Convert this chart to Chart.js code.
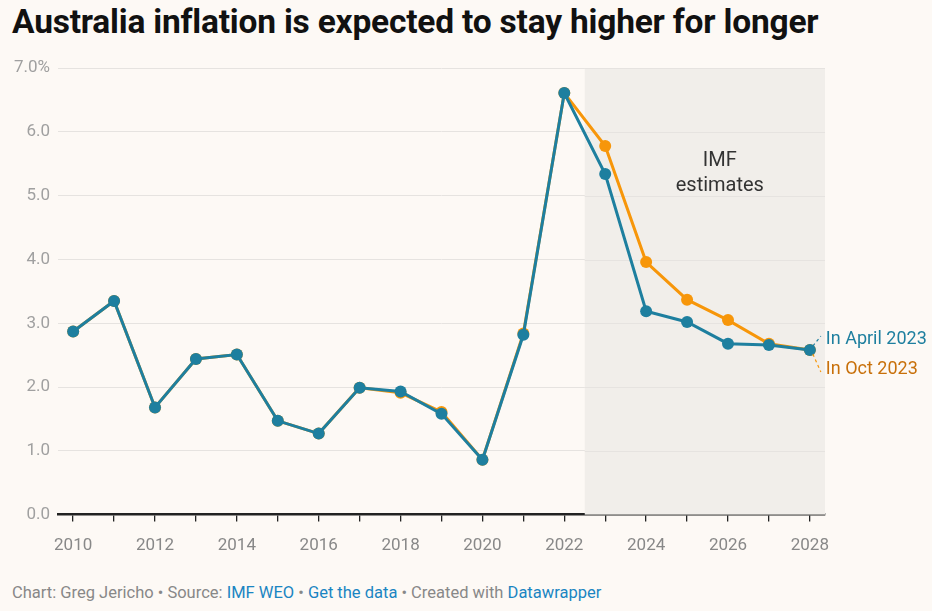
<!DOCTYPE html>
<html>
<head>
<meta charset="utf-8">
<script src="https://cdn.jsdelivr.net/npm/chart.js@4"></script>
<style>
  html, body { margin: 0; padding: 0; background: #fdf9f5; }
  body { width: 932px; height: 611px; position: relative; overflow: hidden; font-family: Roboto, sans-serif; }
  #title { position: absolute; left: 12px; top: 2px; font-size: 33.5px; font-weight: 700; color: #111; letter-spacing: -0.2px; }
  #wrap { position: absolute; left: 0; top: 50px; width: 932px; height: 526px; }
  #footer { position: absolute; left: 12px; top: 583px; font-size: 16.5px; color: #888; }
  #footer a { color: #1a85c2; text-decoration: none; }
</style>
</head>
<body>
<div id="title">Australia inflation is expected to stay higher for longer</div>
<div id="wrap"><canvas id="chart"></canvas></div>
<div id="footer">Chart: Greg Jericho • Source: <a>IMF WEO</a> • <a>Get the data</a> • Created with <a>Datawrapper</a></div>
<script>
/* Australia CPI inflation, IMF WEO vintages */

const years = [2010, 2011, 2012, 2013, 2014, 2015, 2016, 2017, 2018, 2019,
  2020, 2021, 2022, 2023, 2024, 2025, 2026, 2027, 2028];

const april2023 = [2.87, 3.35, 1.68, 2.44, 2.51, 1.47, 1.27, 1.99, 1.93, 1.58,
  0.86, 2.82, 6.61, 5.34, 3.19, 3.02, 2.68, 2.66, 2.58];

const oct2023 = [2.87, 3.35, 1.68, 2.44, 2.51, 1.47, 1.27, 1.99, 1.91, 1.61,
  0.86, 2.84, 6.61, 5.78, 3.96, 3.37, 3.05, 2.68, 2.58];

const seriesNames = ['In April 2023', 'In Oct 2023'];
const yTicks = [0, 1, 2, 3, 4, 5, 6, 7];
const estimateStart = 2022.5;
const estimateLabel = ['IMF', 'estimates'];

const TEAL = '#1e7f9f';
const ORANGE = '#f7960a';
const ORANGE_TEXT = '#c8700a';

const toPoints = (vals) => years.map((yr, i) => ({ x: yr, y: vals[i] }));

/* ── Shaded estimate band + end labels ───────────── */

const overlay = {
  id: 'overlay',
  beforeDatasetsDraw(chart) {
    const { ctx, chartArea, scales } = chart;
    const x0 = scales.x.getPixelForValue(estimateStart);
    ctx.save();
    ctx.fillStyle = '#f1eeea';
    ctx.fillRect(x0, chartArea.top, chartArea.right - x0, chartArea.bottom - chartArea.top);
    // redraw the grid lines over the band
    ctx.strokeStyle = '#e6e3e0';
    ctx.lineWidth = 1;
    yTicks.slice(1).forEach((t) => {
      const y = Math.round(scales.y.getPixelForValue(t)) + 0.5;
      ctx.beginPath();
      ctx.moveTo(x0, y);
      ctx.lineTo(chartArea.right, y);
      ctx.stroke();
    });
    ctx.fillStyle = '#333';
    ctx.font = '20px Roboto, sans-serif';
    ctx.textAlign = 'center';
    ctx.textBaseline = 'middle';
    const cx = scales.x.getPixelForValue(2025.8);
    ctx.fillText(estimateLabel[0], cx, scales.y.getPixelForValue(5.55));
    ctx.fillText(estimateLabel[1], cx, scales.y.getPixelForValue(5.16));
    ctx.restore();
  },
  afterDatasetsDraw(chart) {
    const { ctx, scales } = chart;
    const last = years.length - 1;
    const px = scales.x.getPixelForValue(years[last]);
    const pyA = scales.y.getPixelForValue(april2023[last]);
    const pyO = scales.y.getPixelForValue(oct2023[last]);
    ctx.save();
    ctx.lineWidth = 1.2;
    ctx.setLineDash([3, 3]);
    ctx.strokeStyle = TEAL;
    ctx.beginPath();
    ctx.moveTo(px + 3, pyA - 4);
    ctx.lineTo(px + 11, pyA - 14);
    ctx.stroke();
    ctx.strokeStyle = ORANGE;
    ctx.beginPath();
    ctx.moveTo(px + 3, pyO + 4);
    ctx.lineTo(px + 11, pyO + 22);
    ctx.stroke();
    ctx.setLineDash([]);
    ctx.font = '18px Roboto, sans-serif';
    ctx.textAlign = 'left';
    ctx.textBaseline = 'middle';
    ctx.fillStyle = TEAL;
    ctx.fillText(seriesNames[0], px + 16, pyA - 11);
    ctx.fillStyle = ORANGE_TEXT;
    ctx.fillText(seriesNames[1], px + 16, pyO + 19);
    ctx.restore();
  }
};

/* ── Chart ───────────────────────────────────────── */

new Chart(document.getElementById('chart'), {
  type: 'line',
  data: {
    datasets: [
      {
        label: seriesNames[0],
        data: toPoints(april2023),
        borderColor: TEAL,
        backgroundColor: TEAL,
        borderWidth: 3,
        pointRadius: 6,
        pointBorderWidth: 0,
        tension: 0,
      },
      {
        label: seriesNames[1],
        data: toPoints(oct2023),
        borderColor: ORANGE,
        backgroundColor: ORANGE,
        borderWidth: 3,
        pointRadius: 6,
        pointBorderWidth: 0,
        tension: 0,
      },
    ],
  },
  options: {
    responsive: true,
    maintainAspectRatio: false,
    animation: false,
    layout: { padding: { top: 12, right: 107, bottom: 6, left: 0 } },
    plugins: { legend: { display: false }, tooltip: { enabled: false } },
    scales: {
      x: {
        type: 'linear',
        min: 2009.63,
        max: 2028.37,
        afterBuildTicks(axis) { axis.ticks = years.map((v) => ({ value: v })); },
        ticks: {
          autoSkip: false,
          maxRotation: 0,
          padding: 14,
          color: '#888',
          font: { family: 'Roboto', size: 17 },
          callback: (v) => (v % 2 === 0 ? String(v) : ''),
        },
        grid: { drawOnChartArea: false, drawTicks: true, tickLength: 7, color: '#222', lineWidth: 1.3 },
        border: { display: true, color: '#222', width: 2.5 },
      },
      y: {
        min: 0,
        max: 7,
        afterBuildTicks(axis) { axis.ticks = yTicks.map((v) => ({ value: v })); },
        afterFit(axis) { axis.width = 58; },
        ticks: {
          padding: 8,
          color: '#a0a0a0',
          font: { family: 'Roboto', size: 17 },
          callback: (v) => (v === 7 ? '7.0%' : v.toFixed(1)),
        },
        grid: { drawTicks: false, color: (c) => (c.tick.value === 0 ? 'rgba(0,0,0,0)' : '#e6e3e0') },
        border: { display: false },
      },
    },
  },
  plugins: [overlay],
});
</script>
</body>
</html>
